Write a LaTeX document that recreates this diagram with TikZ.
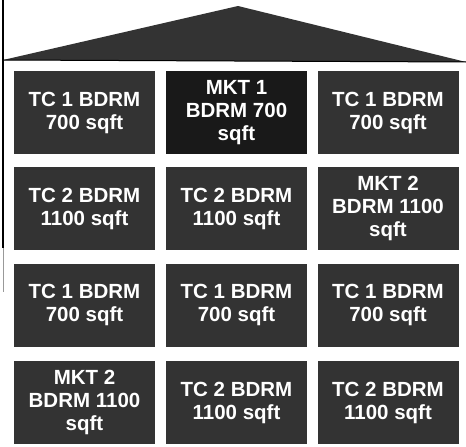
\documentclass[tikz,border=0pt]{standalone}
\usepackage{fontspec}
\setmainfont{Liberation Sans}
\begin{document}
\begin{tikzpicture}[x=1pt,y=-1pt,
  unit/.style={fill=black!80, minimum width=141pt, minimum height=83pt, inner sep=0pt,
    text=white, font=\bfseries\fontsize{20.5}{23}\selectfont, align=center},
  darkunit/.style={unit, fill=black!90}]
\useasboundingbox (0,0) rectangle (466,447);
\fill[white] (0,0) rectangle (466,447);
% roof
\fill[black!80] (3,60) -- (238,6) -- (466,62) -- cycle;
\draw[black, line width=1pt] (3,60) -- (466,62);
% left wall line
\draw[black, line width=1.2pt] (3,0) -- (3,248);
\draw[black!40, line width=1pt] (3,248) -- (3,292);
% units
\node[unit]     (a1) at (84.5,112.5) {TC 1 BDRM\\700 sqft};
\node[darkunit] (a2) at (236.5,112.5) {MKT 1\\BDRM 700\\sqft};
\node[unit]     (a3) at (388,112.5) {TC 1 BDRM\\700 sqft};
\node[unit]     (b1) at (84.5,208.5) {TC 2 BDRM\\1100 sqft};
\node[unit]     (b2) at (236.5,208.5) {TC 2 BDRM\\1100 sqft};
\node[unit]     (b3) at (388,208.5) {MKT 2\\BDRM 1100\\sqft};
\node[unit]     (c1) at (84.5,305) {TC 1 BDRM\\700 sqft};
\node[unit]     (c2) at (236.5,305) {TC 1 BDRM\\700 sqft};
\node[unit]     (c3) at (388,305) {TC 1 BDRM\\700 sqft};
\node[unit]     (d1) at (84.5,402.5) {MKT 2\\BDRM 1100\\sqft};
\node[unit]     (d2) at (236.5,402.5) {TC 2 BDRM\\1100 sqft};
\node[unit]     (d3) at (388,402.5) {TC 2 BDRM\\1100 sqft};
\end{tikzpicture}
\end{document}
